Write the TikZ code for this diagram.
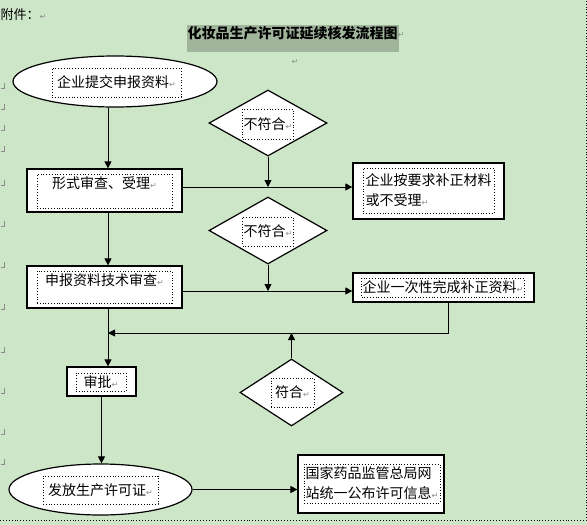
\documentclass[tikz,border=0pt]{standalone}
\usepackage{fontspec}
\setmainfont{Noto Sans CJK SC}
\newfontfamily\markfont{DejaVu Sans}
\usetikzlibrary{shapes.geometric,arrows.meta,positioning}
\definecolor{pagegreen}{RGB}{206,230,200}
\definecolor{titlegray}{RGB}{161,181,157}
\newcommand{\retmark}{{\markfont\fontsize{8}{8}\selectfont\color{black!45}↵}}

\begin{document}
\begin{tikzpicture}[
    x=1pt, y=-1pt,
    boxnode/.style={draw, fill=white, line width=1.2pt, inner sep=0pt},
    ovalnode/.style={ellipse, draw, fill=white, line width=1.2pt, inner sep=0pt},
    decnode/.style={diamond, draw, fill=white, line width=1.2pt, inner sep=0pt},
    textnode/.style={draw, dotted, line width=0.8pt, inner sep=1pt, align=left, font=\fontsize{14}{20}\selectfont},
    marknode/.style={inner sep=0pt},
    flowline/.style={line width=0.9pt, -{Triangle[length=7pt,width=7pt]}}
]
% Page
\fill[pagegreen] (0,0) rectangle (587,525);
\useasboundingbox (0,0) rectangle (587,525);
\draw[dotted, line width=0.9pt] (0,520.5) -- (586,520.5) -- (586,0);

% Paragraph marks at the left edge
\foreach \y in {88,109,130,151,185,226,267,309,352,393,434,464} {
    \draw[black!45, line width=0.6pt] (0.5,\y) -- (4,\y) -- (4,\y-5);
}

% Heading
\node[marknode, anchor=west, font=\fontsize{13}{13}\selectfont] (annex) at (0.5,15) {附件：\retmark};
\node[fill=titlegray, minimum width=211pt, minimum height=27pt, inner sep=1pt, text depth=13pt,
      font=\fontsize{14}{14}\selectfont\bfseries] (title) at (292.5,38.5) {化妆品生产许可证延续核发流程图};
\node[marknode] (titleend) at (401,35) {\retmark};
\node[marknode] (blankline) at (295,62) {\retmark};

% Main column
\node[ovalnode, minimum width=204pt, minimum height=51pt] (submit) at (115,81.5) {};
\node[textnode, minimum width=129pt, minimum height=29pt] (submittext) at (116.5,82.5) {企业提交申报资料\retmark};

\node[boxnode, minimum width=155pt, minimum height=43pt] (formal) at (104.5,190.5) {};
\node[textnode, minimum width=135pt, minimum height=34pt, text depth=16pt] (formaltext) at (104.5,191) {形式审查、受理\retmark};

\node[boxnode, minimum width=155pt, minimum height=42pt] (review) at (104.5,287) {};
\node[textnode, minimum width=135pt, minimum height=32pt, text depth=14pt] (reviewtext) at (104.5,287) {申报资料技术审查\retmark};

\node[boxnode, minimum width=69pt, minimum height=29pt] (approve) at (101.5,381.5) {};
\node[textnode, minimum width=50pt, minimum height=18pt] (approvetext) at (101,382) {审批\retmark};

\node[ovalnode, minimum width=183pt, minimum height=51pt] (issue) at (100.5,489.5) {};
\node[textnode, minimum width=115pt, minimum height=28pt] (issuetext) at (100.5,490) {发放生产许可证\retmark};

% Checks
\node[decnode, minimum width=118pt, minimum height=66pt] (check1) at (268,123) {};
\node[textnode, minimum width=50pt, minimum height=30pt] (check1text) at (268,124) {不符合\retmark};

\node[decnode, minimum width=118pt, minimum height=67pt] (check2) at (268,230.5) {};
\node[textnode, minimum width=50pt, minimum height=29pt] (check2text) at (268,231.5) {不符合\retmark};

\node[decnode, minimum width=103pt, minimum height=67pt] (check3) at (291.5,392.5) {};
\node[textnode, minimum width=43pt, minimum height=29pt] (check3text) at (292.5,392.5) {符合\retmark};

% Right column
\node[boxnode, minimum width=151pt, minimum height=56pt] (fix) at (428.5,191) {};
\node[textnode, minimum width=131pt, minimum height=45pt] (fixtext) at (428.5,190.5) {企业按要求补正材料\\或不受理\retmark};

\node[boxnode, minimum width=181pt, minimum height=29pt] (supply) at (443.5,287.5) {};
\node[textnode, minimum width=160pt, minimum height=19pt] (supplytext) at (443,287.5) {企业一次性完成补正资料\retmark};

\node[boxnode, minimum width=146pt, minimum height=58pt] (publish) at (371,484) {};
\node[textnode, minimum width=136pt, minimum height=39pt] (publishtext) at (372,483.5) {国家药品监管总局网\\站统一公布许可信息\retmark};

% Connectors
\coordinate (trunk) at (108,0);
\coordinate (joinfix) at (267,187);
\coordinate (joinsupply) at (267,291);
\coordinate (backturn) at (448,333);

\draw[flowline] (submit.south -| trunk) -- (formal.north -| trunk);
\draw[flowline] (check1.south) -- (check1.south |- joinfix);
\draw[flowline] (formal.east |- joinfix) -- (fix.west |- joinfix);
\draw[flowline] (formal.south -| trunk) -- (review.north -| trunk);
\draw[flowline] (check2.south) -- (check2.south |- joinsupply);
\draw[flowline] (review.east |- joinsupply) -- (supply.west |- joinsupply);
\draw[flowline] (supply.south -| backturn) -- (backturn) -- (backturn -| trunk);
\draw[flowline] (check3.north) -- (check3.north |- backturn);
\draw[flowline] (review.south -| trunk) -- (approve.north -| trunk);
\draw[flowline] (approve.south) -- (approve.south |- issue.north);
\draw[flowline] (issue.east) -- (issue.east -| publish.west);

\end{tikzpicture}
\end{document}
